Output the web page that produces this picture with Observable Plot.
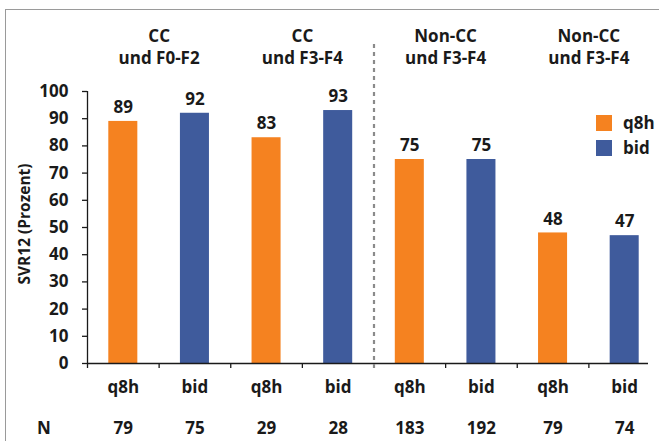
<!DOCTYPE html>
<html>
<head>
<meta charset="utf-8">
<script src="https://cdn.jsdelivr.net/npm/d3@7"></script>
<script src="https://cdn.jsdelivr.net/npm/@observablehq/plot@0.6"></script>
<style>
  html, body { margin: 0; padding: 0; background: #fff; }
  #wrap { position: relative; width: 659px; height: 441px; overflow: hidden; font-family: "Open Sans", sans-serif; }
  #frame { position: absolute; left: 5px; top: 9px; width: 800px; height: 600px; border-top: 1.5px solid #9a9a9a; border-left: 1.5px solid #9a9a9a; }
  #chart { position: absolute; left: 0; top: 0; }
  .leg { position: absolute; left: 596px; display: flex; align-items: center; font-weight: 700; font-size: 17px; color: #1a1a1a; }
  .leg span.sw { display: inline-block; width: 16px; height: 16px; margin-right: 11px; }
</style>
</head>
<body>
<div id="wrap">
  <div id="frame"></div>
  <div id="chart"></div>
  <div id="legend"></div>
</div>
<script>
// ---- data ----
const groups = ["CC\nund F0-F2", "CC\nund F3-F4", "Non-CC\nund F3-F4", "Non-CC\nund F3-F4"];
const regimens = ["q8h", "bid", "q8h", "bid", "q8h", "bid", "q8h", "bid"];
const svr12 = [89, 92, 83, 93, 75, 75, 48, 47];
const nValues = [79, 75, 29, 28, 183, 192, 79, 74];
const legendKeys = ["q8h", "bid"];
const colors = {q8h: "#f58220", bid: "#3f5b9c"};
const yTicks = d3.range(0, 101, 10);

const bars = regimens.map((r, i) => ({i, regimen: r, value: svr12[i], n: nValues[i]}));
const groupData = groups.map((g, k) => ({k, label: g}));

const ink = "#1a1a1a";
const fs = 17;

const chart = Plot.plot({
  width: 659,
  height: 441,
  marginLeft: 87,
  marginRight: 11,
  marginTop: 44,
  marginBottom: 78,
  style: {fontFamily: "Open Sans, sans-serif", fontWeight: 700, fontSize: fs + "px", color: ink, background: "transparent", overflow: "visible"},
  x: {type: "linear", domain: [0, regimens.length], range: [87, 660], axis: null},
  y: {domain: [0, 100], range: [363, 91], axis: null},
  marks: [
    Plot.rectY(bars, {x1: d => d.i, x2: d => d.i + 1, y: "value", fill: d => colors[d.regimen], insetLeft: 21.3, insetRight: 21.3}),
    Plot.text(bars, {x: d => d.i + 0.5, y: "value", text: d => String(d.value), lineAnchor: "middle", dy: -13.7, fill: ink, fontSize: fs, fontWeight: 700}),
    // y axis
    Plot.axisY({ticks: yTicks, tickSize: 5, tickPadding: 14, label: null, stroke: ink, strokeWidth: 1.3, fill: ink}),
    Plot.ruleX([0], {y1: 0, y2: 100, stroke: ink, strokeWidth: 1.3}),
    // x axis
    Plot.ruleY([0], {stroke: ink, strokeWidth: 1.3}),
    Plot.axisX({ticks: d3.range(0, regimens.length), tickSize: 5, tickFormat: () => "", label: null, stroke: ink, strokeWidth: 1.3}),
    // category labels
    Plot.text(bars, {x: d => d.i + 0.5, frameAnchor: "bottom", text: "regimen", lineAnchor: "middle", dy: 24.1, fill: ink}),
    // N row
    Plot.text(bars, {x: d => d.i + 0.5, frameAnchor: "bottom", text: d => String(d.n), lineAnchor: "middle", dy: 64.9, fill: ink}),
    Plot.text(["N"], {frameAnchor: "bottom-left", textAnchor: "middle", dx: -43.5, dy: 64.9, lineAnchor: "middle", fill: ink}),
    // y label
    Plot.text(["SVR12 (Prozent)"], {frameAnchor: "left", textAnchor: "middle", lineAnchor: "middle", rotate: -90, dx: -62, dy: 20, fill: ink, fontSize: 15.5, fontWeight: 700}),
    // group labels
    Plot.text(groupData, {x: d => 2 * d.k + 1, frameAnchor: "top", text: "label", lineAnchor: "top", lineHeight: 1.28, dy: -17.8, fill: ink}),
    // separator
    Plot.ruleX([regimens.length / 2], {stroke: "#8a8a8a", strokeWidth: 2.2, strokeDasharray: "4,4", insetBottom: -8})
  ]
});
document.getElementById("chart").appendChild(chart);

const leg = document.getElementById("legend");
legendKeys.forEach((k, j) => {
  const d = document.createElement("div");
  d.className = "leg";
  d.style.top = (111 + j * 25) + "px";
  d.innerHTML = `<span class="sw" style="background:${colors[k]}"></span><span>${k}</span>`;
  leg.appendChild(d);
});
</script>
</body>
</html>
